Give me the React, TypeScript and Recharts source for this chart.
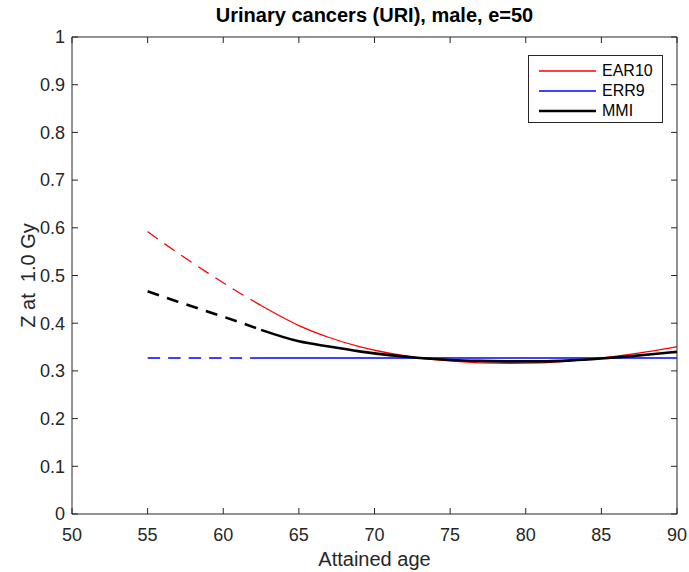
import React from 'react';
import { LineChart, Line, XAxis, YAxis, Legend } from 'recharts';

// Attained ages at which the curves are sampled
const ages = [55, 57, 59, 61, 62.5, 65, 67, 69, 71, 73, 75, 77, 79, 81, 83, 85, 87, 89, 90];
// Z at 1.0 Gy for each model
const ear10 = [0.592, 0.547, 0.505, 0.465, 0.437, 0.395, 0.37, 0.351, 0.337, 0.327, 0.321, 0.317, 0.316, 0.317, 0.321, 0.327, 0.335, 0.345, 0.351];
const err9 = [0.327, 0.327, 0.327, 0.327, 0.327, 0.327, 0.327, 0.327, 0.327, 0.327, 0.327, 0.327, 0.327, 0.327, 0.327, 0.327, 0.327, 0.327, 0.327];
const mmi = [0.467, 0.445, 0.424, 0.403, 0.386, 0.362, 0.351, 0.341, 0.333, 0.327, 0.323, 0.321, 0.32, 0.32, 0.322, 0.326, 0.331, 0.337, 0.34];
// Curves are dashed below this age and solid above it
const splitAge = 62.5;

const xTicks = [50, 55, 60, 65, 70, 75, 80, 85, 90];
const yTicks = [0, 0.1, 0.2, 0.3, 0.4, 0.5, 0.6, 0.7, 0.8, 0.9, 1];

const titleText = 'Urinary cancers (URI), male, e=50';
const xLabelText = 'Attained age';
const yLabelText = 'Z at  1.0 Gy';

const seriesInfo = [
  { name: 'EAR10', color: '#ff0000', width: 1.3 },
  { name: 'ERR9', color: '#0000ff', width: 1.3 },
  { name: 'MMI', color: '#000000', width: 2.6 },
];

const rows = ages.map((age, i) => ({
  age,
  earDash: age <= splitAge ? ear10[i] : null,
  earSolid: age >= splitAge ? ear10[i] : null,
  errDash: age <= splitAge ? err9[i] : null,
  errSolid: age >= splitAge ? err9[i] : null,
  mmiDash: age <= splitAge ? mmi[i] : null,
  mmiSolid: age >= splitAge ? mmi[i] : null,
}));

const W = 689;
const H = 572;
const PLOT_LEFT = 72;
const PLOT_RIGHT = 677;
const PLOT_TOP = 37;
const PLOT_BOTTOM = 514;
const FONT = '"Liberation Sans", Arial, Helvetica, sans-serif';
const AXIS_COLOR = '#262626';

const fmtTick = (v: number) => String(Math.round(v * 10) / 10);
const blank = () => '';

const TitleLabel = () => (
  <text
    x={(PLOT_LEFT + PLOT_RIGHT) / 2}
    y={22}
    textAnchor="middle"
    fontFamily={FONT}
    fontSize={20}
    fontWeight="bold"
    fill="#000"
  >
    {titleText}
  </text>
);

const XLabel = () => (
  <text
    x={(PLOT_LEFT + PLOT_RIGHT) / 2}
    y={566}
    textAnchor="middle"
    fontFamily={FONT}
    fontSize={20}
    fill={AXIS_COLOR}
  >
    {xLabelText}
  </text>
);

const YLabel = () => {
  const cx = 28;
  const cy = (PLOT_TOP + PLOT_BOTTOM) / 2;
  return (
    <text
      x={cx}
      y={cy}
      transform={`rotate(-90, ${cx}, ${cy})`}
      textAnchor="middle"
      dominantBaseline="central"
      fontFamily={FONT}
      fontSize={20}
      fill={AXIS_COLOR}
      style={{ whiteSpace: 'pre' }}
    >
      {yLabelText}
    </text>
  );
};

const LegendBox = () => (
  <div
    style={{
      width: 135,
      height: 68,
      boxSizing: 'border-box',
      border: `1px solid ${AXIS_COLOR}`,
      background: '#fff',
      fontFamily: FONT,
      fontSize: 16,
      color: '#000',
      paddingTop: 5,
    }}
  >
    {seriesInfo.map((s) => (
      <div key={s.name} style={{ display: 'flex', alignItems: 'center', height: 20 }}>
        <svg width={73} height={20} style={{ display: 'block' }}>
          <line x1={10} x2={67} y1={10} y2={10} stroke={s.color} strokeWidth={s.width} />
        </svg>
        <span style={{ lineHeight: '20px' }}>{s.name}</span>
      </div>
    ))}
  </div>
);

const DASH = '12.5 8';

export default function App() {
  return (
    <div style={{ position: 'absolute', left: 0, top: 0, background: '#fff' }}>
      <LineChart
        width={W}
        height={H}
        data={rows}
        margin={{ top: 0, right: 0, bottom: 0, left: 0 }}
        style={{ background: '#fff' }}
      >
        <XAxis
          dataKey="age"
          type="number"
          domain={[50, 90]}
          ticks={xTicks}
          allowDataOverflow
          height={H - PLOT_BOTTOM}
          tickSize={-6}
          tickMargin={20}
          stroke={AXIS_COLOR}
          tick={{ fill: AXIS_COLOR, fontSize: 18, fontFamily: FONT }}
          tickLine={{ stroke: AXIS_COLOR }}
          label={XLabel}
        />
        <XAxis
          xAxisId="top"
          orientation="top"
          dataKey="age"
          type="number"
          domain={[50, 90]}
          ticks={xTicks}
          allowDataOverflow
          height={PLOT_TOP}
          tickSize={-6}
          tickFormatter={blank}
          stroke={AXIS_COLOR}
          tickLine={{ stroke: AXIS_COLOR }}
          label={TitleLabel}
        />
        <YAxis
          type="number"
          domain={[0, 1]}
          ticks={yTicks}
          allowDataOverflow
          width={PLOT_LEFT}
          tickSize={-6}
          tickMargin={13}
          tickFormatter={fmtTick}
          stroke={AXIS_COLOR}
          tick={{ fill: AXIS_COLOR, fontSize: 18, fontFamily: FONT }}
          tickLine={{ stroke: AXIS_COLOR }}
          label={YLabel}
        />
        <YAxis
          yAxisId="right"
          orientation="right"
          type="number"
          domain={[0, 1]}
          ticks={yTicks}
          allowDataOverflow
          width={W - PLOT_RIGHT}
          tickSize={-6}
          tickFormatter={blank}
          stroke={AXIS_COLOR}
          tickLine={{ stroke: AXIS_COLOR }}
        />
        <Legend
          layout="vertical"
          align="center"
          verticalAlign="middle"
          wrapperStyle={{ left: 528, top: 55, width: 135, height: 68 }}
          content={LegendBox}
        />
        <Line dataKey="earDash" type="monotone" stroke="#ff0000" strokeWidth={1.3} strokeDasharray={DASH} dot={false} activeDot={false} legendType="none" isAnimationActive={false} />
        <Line dataKey="earSolid" name="EAR10" type="monotone" stroke="#ff0000" strokeWidth={1.3} dot={false} activeDot={false} isAnimationActive={false} />
        <Line dataKey="errDash" type="monotone" stroke="#0000ff" strokeWidth={1.3} strokeDasharray={DASH} dot={false} activeDot={false} legendType="none" isAnimationActive={false} />
        <Line dataKey="errSolid" name="ERR9" type="monotone" stroke="#0000ff" strokeWidth={1.3} dot={false} activeDot={false} isAnimationActive={false} />
        <Line dataKey="mmiDash" type="monotone" stroke="#000000" strokeWidth={2.6} strokeDasharray="12 8.5" dot={false} activeDot={false} legendType="none" isAnimationActive={false} />
        <Line dataKey="mmiSolid" name="MMI" type="monotone" stroke="#000000" strokeWidth={2.6} dot={false} activeDot={false} isAnimationActive={false} />
      </LineChart>
    </div>
  );
}
